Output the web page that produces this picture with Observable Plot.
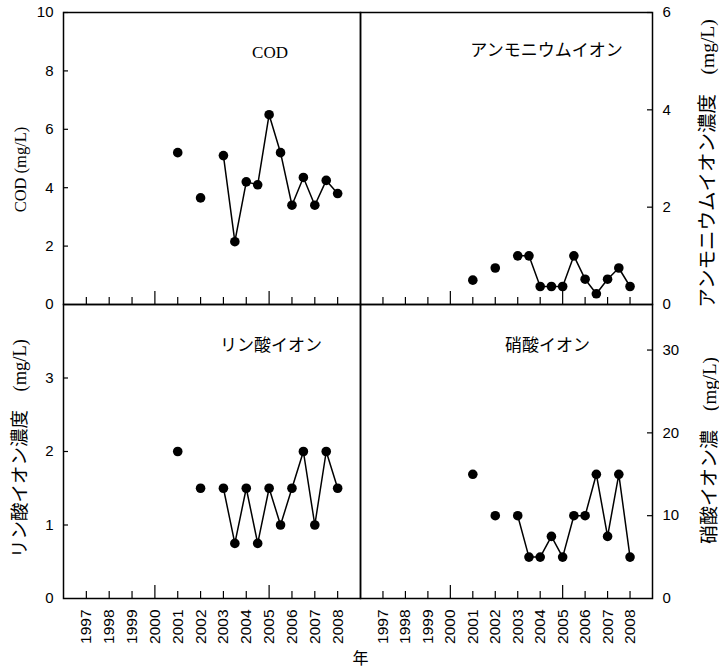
<!DOCTYPE html>
<html><head><meta charset="utf-8">
<script src="https://cdn.jsdelivr.net/npm/d3@7"></script>
<script src="https://cdn.jsdelivr.net/npm/@observablehq/plot@0.6"></script>
<style>
body{margin:0;background:#fff;}
#chart{position:relative;width:719px;height:672px;background:#fff;}
#chart svg{position:absolute;left:0;top:0;}
</style></head><body><div id="chart"></div>
<script>
// ---- data ----
const years = [2001, 2002, 2003, 2003.5, 2004, 2004.5, 2005, 2005.5, 2006, 2006.5, 2007, 2007.5, 2008];
const codValues = [5.2, 3.65, 5.1, 2.15, 4.2, 4.1, 6.5, 5.2, 3.4, 4.35, 3.4, 4.25, 3.8];
const ammoniumValues = [0.5, 0.75, 1.0, 1.0, 0.37, 0.37, 0.37, 1.0, 0.52, 0.22, 0.52, 0.75, 0.37];
const phosphateValues = [2.0, 1.5, 1.5, 0.75, 1.5, 0.75, 1.5, 1.0, 1.5, 2.0, 1.0, 2.0, 1.5];
const nitrateValues = [15, 10, 10, 5, 5, 7.5, 5, 10, 10, 15, 7.5, 15, 5];
const lineStartYear = 2003;
const tickYears = [1997, 1998, 1999, 2000, 2001, 2002, 2003, 2004, 2005, 2006, 2007, 2008];
const majorYears = [2000, 2005];
const codTicks = [0, 2, 4, 6, 8, 10];
const ammoniumTicks = [0, 2, 4, 6];
const phosphateTicks = [0, 1, 2, 3];
const nitrateTicks = [0, 10, 20, 30];
const xLabel = "年";

const W = 719, H = 672;
const sansFont = "'Liberation Sans', Arial, 'Noto Sans CJK JP', sans-serif";
const serifFont = "'Liberation Serif', 'Noto Sans CJK JP', serif";
const jpFont = "'Noto Sans CJK JP', sans-serif";

function panel(o) {
  const data = years.map((year, i) => ({year, value: o.values[i]}));
  const plotH = o.box.bottom - o.box.top;
  const plotW = o.box.right - o.box.left;
  const left = o.side === "left";
  const marks = [
    Plot.frame({strokeWidth: 1.5}),
    Plot.tickY(o.yLabels.slice(1), left ? {y: d => d, insetRight: plotW - 5, strokeWidth: 1.2}
                                        : {y: d => d, insetLeft: plotW - 5, strokeWidth: 1.2}),
    Plot.tickX(tickYears.filter(d => !majorYears.includes(d)), {x: d => d, insetTop: plotH - 7, strokeWidth: 1.2}),
    Plot.tickX(majorYears, {x: d => d, insetTop: plotH - 13, strokeWidth: 1.2}),
    Plot.axisY(o.yLabels, {anchor: o.side, tickSize: 0, tickPadding: 10, tickFormat: d => String(d), fontSize: 15, fontFamily: sansFont, label: null}),
    Plot.line(data.filter(d => d.year >= lineStartYear), {x: "year", y: "value", stroke: "black", strokeWidth: 1.5}),
    Plot.dot(data, {x: "year", y: "value", r: 4.8, fill: "black", stroke: "none"}),
    Plot.text([o.title], {text: d => d, frameAnchor: "top", textAnchor: "middle", lineAnchor: "middle", dx: o.titleDx, dy: o.titleDy, fontSize: 17, fontFamily: o.titleFont, fill: "black"}),
    Plot.text([o.ylabel], {text: d => d, frameAnchor: o.side, textAnchor: "middle", lineAnchor: "middle", rotate: -90, dx: o.labelDx, dy: o.labelDy, fontSize: o.labelSize, fontFamily: serifFont, fill: "black"})
  ];
  if (o.showX) {
    marks.push(Plot.axisX(tickYears, {anchor: "bottom", tickSize: 0, tickPadding: 11, tickRotate: -90, tickFormat: d => String(d), fontSize: 15.5, fontFamily: sansFont, label: null}));
  }
  if (o.extra) marks.push(...o.extra);
  return Plot.plot({
    width: W, height: H,
    marginLeft: o.box.left, marginRight: W - o.box.right,
    marginTop: o.box.top, marginBottom: H - o.box.bottom,
    x: {domain: [1996, 2009], axis: null},
    y: {domain: o.yDomain, axis: null},
    style: {background: "transparent", color: "black", overflow: "visible", fontFamily: sansFont},
    marks
  });
}

const chart = document.getElementById("chart");
chart.append(panel({
  values: codValues, yDomain: [0, 10], yLabels: codTicks, side: "left",
  box: {left: 63, right: 360, top: 12, bottom: 304},
  title: "COD", titleFont: serifFont, titleDx: 58, titleDy: 40,
  ylabel: "COD (mg/L)", labelDx: -43, labelDy: 11, labelSize: 16.5, showX: false
}));
chart.append(panel({
  values: ammoniumValues, yDomain: [0, 6], yLabels: ammoniumTicks, side: "right",
  box: {left: 360, right: 652, top: 12, bottom: 304},
  title: "アンモニウムイオン", titleFont: jpFont, titleDx: 40, titleDy: 38,
  ylabel: "アンモニウムイオン濃度　(mg/L)", labelDx: 55, labelDy: 5, labelSize: 19.5, showX: false
}));
chart.append(panel({
  values: phosphateValues, yDomain: [0, 4], yLabels: phosphateTicks, side: "left",
  box: {left: 63, right: 360, top: 304, bottom: 598},
  title: "リン酸イオン", titleFont: jpFont, titleDx: 59, titleDy: 41,
  ylabel: "リン酸イオン濃度　(mg/L)", labelDx: -43, labelDy: -3, labelSize: 18.5, showX: true,
  extra: [Plot.text([xLabel], {text: d => d, frameAnchor: "bottom-right", textAnchor: "middle", lineAnchor: "middle", dy: 60, fontSize: 16, fontFamily: jpFont, fill: "black"})]
}));
chart.append(panel({
  values: nitrateValues, yDomain: [0, 35.5], yLabels: nitrateTicks, side: "right",
  box: {left: 360, right: 652, top: 304, bottom: 598},
  title: "硝酸イオン", titleFont: jpFont, titleDx: 41, titleDy: 41,
  ylabel: "硝酸イオン濃　(mg/L)", labelDx: 57, labelDy: -1, labelSize: 19, showX: true
}));
</script></body></html>
